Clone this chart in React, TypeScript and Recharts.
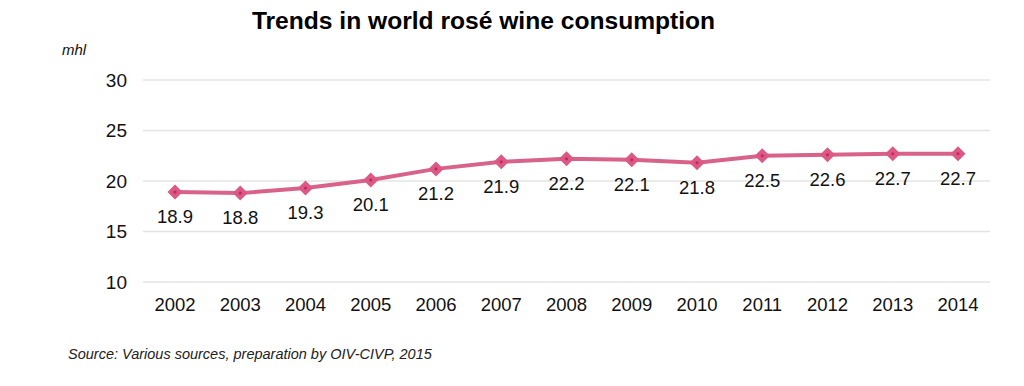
import { LineChart, Line, XAxis, YAxis, CartesianGrid, LabelList } from "recharts";

const years = ["2002", "2003", "2004", "2005", "2006", "2007", "2008", "2009", "2010", "2011", "2012", "2013", "2014"];
const consumption = [18.9, 18.8, 19.3, 20.1, 21.2, 21.9, 22.2, 22.1, 21.8, 22.5, 22.6, 22.7, 22.7];
const yTicks = [10, 15, 20, 25, 30];

const data = years.map((year, i) => ({ year, value: consumption[i] }));

const FONT = '"Liberation Sans", Arial, Helvetica, sans-serif';

const Diamond = (props: any) => {
  const { cx, cy, index } = props;
  if (cx == null || cy == null) return null;
  const r = 7.5;
  return (
    <g key={`d-${index}`}>
      <polygon
        points={`${cx},${cy - r} ${cx + r},${cy} ${cx},${cy + r} ${cx - r},${cy}`}
        fill="#dc5885"
      />
      <circle cx={cx} cy={cy} r={1.6} fill="#c22a5e" />
    </g>
  );
};

export default function App() {
  return (
    <div
      style={{
        position: "absolute",
        left: 0,
        top: 0,
        width: 1024,
        height: 386,
        background: "#fff",
        fontFamily: FONT,
      }}
    >
      <div
        style={{
          position: "absolute",
          left: 0,
          width: 967,
          top: 7,
          textAlign: "center",
          fontSize: 24.6,
          fontWeight: "bold",
          color: "#000",
        }}
      >
        Trends in world rosé wine consumption
      </div>
      <div
        style={{
          position: "absolute",
          left: 62,
          top: 41,
          fontSize: 15,
          fontStyle: "italic",
          color: "#111",
        }}
      >
        mhl
      </div>

      <LineChart
        width={1024}
        height={386}
        data={data}
        margin={{ top: 80, right: 34, left: 0, bottom: 74 }}
      >
        <CartesianGrid vertical={false} stroke="#e4e4e4" strokeWidth={1.5} />
        <XAxis
          dataKey="year"
          height={30}
          axisLine={false}
          tickLine={false}
          tickSize={0}
          tickMargin={16}
          padding={{ left: 32, right: 32 }}
          tick={{ fill: "#111", fontSize: 18.5, fontFamily: FONT }}
        />
        <YAxis
          width={143}
          domain={[10, 30]}
          ticks={yTicks}
          axisLine={false}
          tickLine={false}
          tickSize={0}
          tickMargin={16}
          tick={{ fill: "#111", fontSize: 19, fontFamily: FONT }}
        />
        <Line
          dataKey="value"
          type="linear"
          stroke="#d8628a"
          strokeWidth={4}
          dot={<Diamond />}
          activeDot={false}
          isAnimationActive={false}
        >
          <LabelList
            dataKey="value"
            position="bottom"
            offset={18}
            fill="#111"
            fontSize={18.5}
            fontFamily={FONT}
          />
        </Line>
      </LineChart>

      <div
        style={{
          position: "absolute",
          left: 68,
          top: 346,
          fontSize: 14.5,
          fontStyle: "italic",
          color: "#222",
        }}
      >
        Source: Various sources, preparation by OIV-CIVP, 2015
      </div>
    </div>
  );
}
